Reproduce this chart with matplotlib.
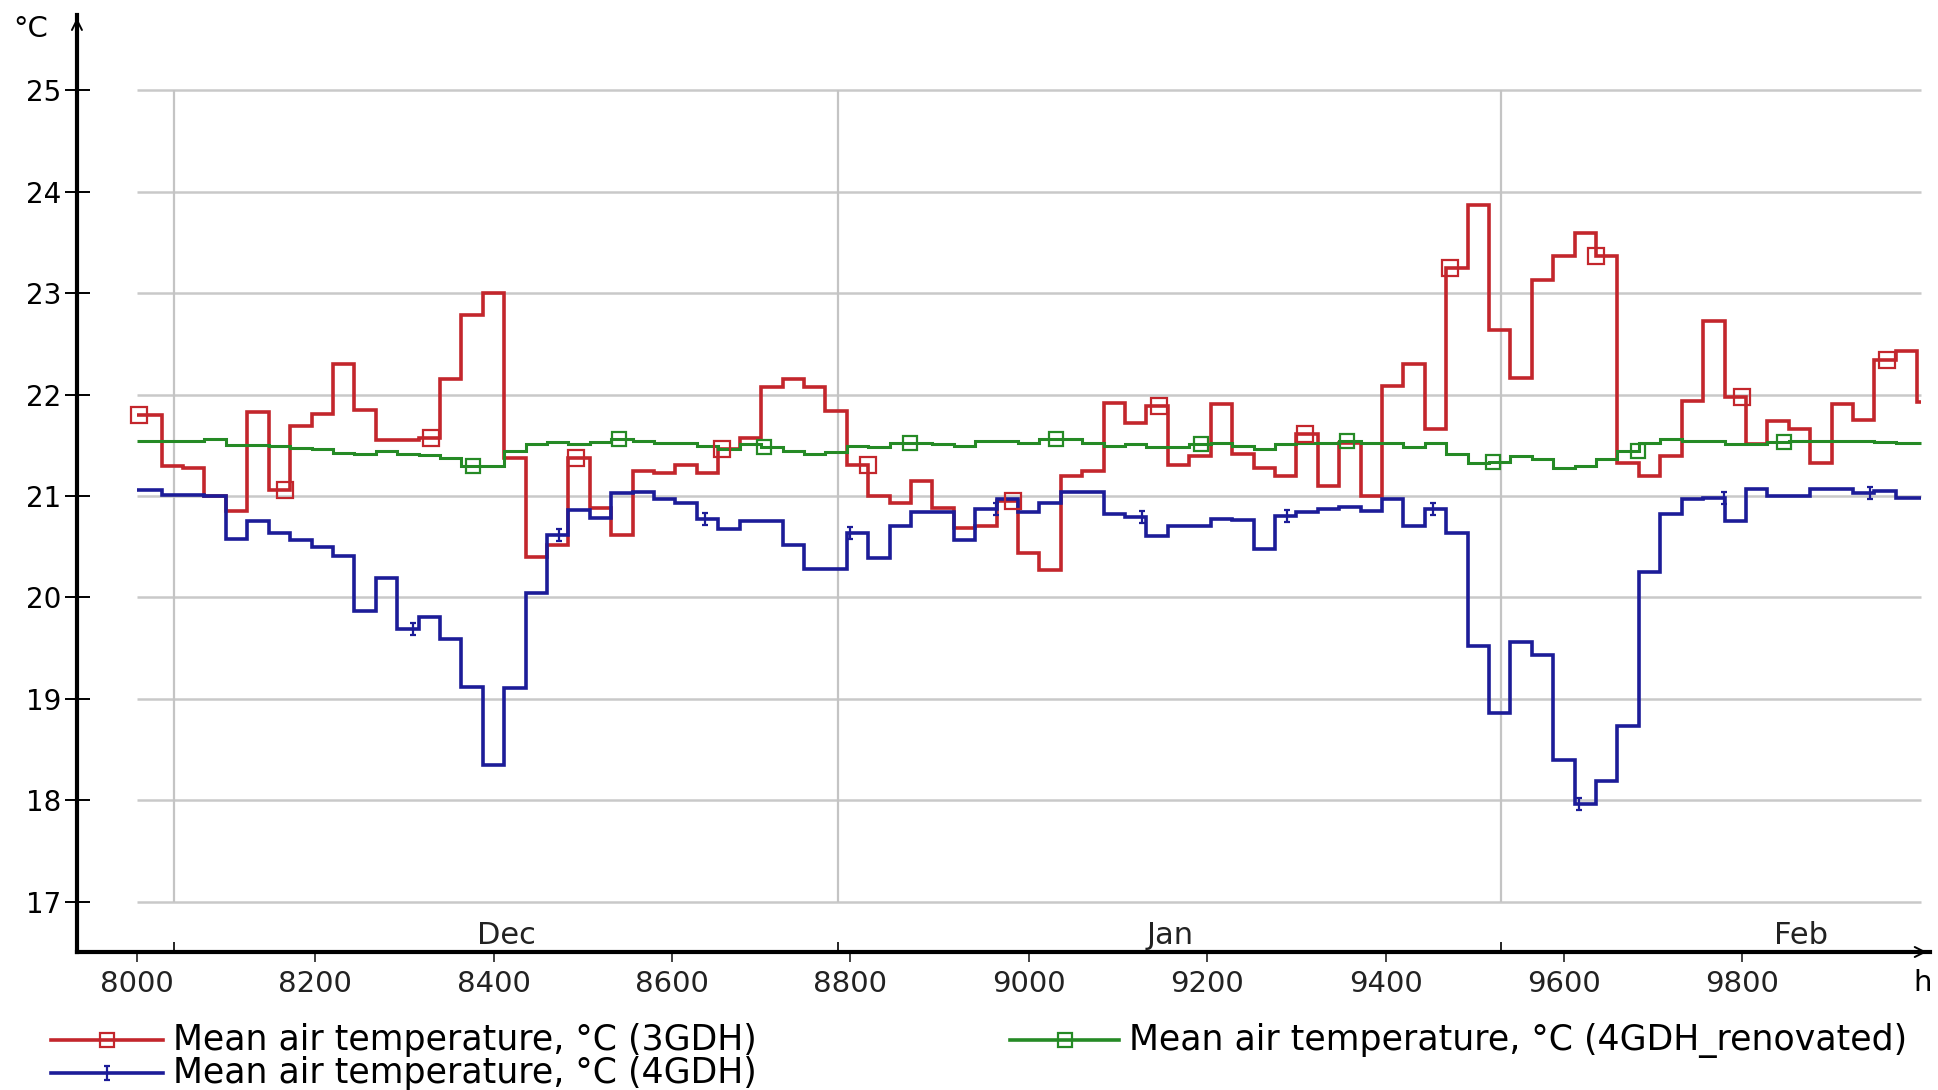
import numpy as np
import matplotlib.pyplot as plt
from matplotlib.lines import Line2D
from matplotlib.path import Path

# daily mean air temperatures, hour 8000 - 10000
day_edges = np.r_[8000, np.arange(8028, 10000, 24), 10000]

temp_3gdh = [21.80, 21.30, 21.28, 21.00, 20.85, 21.83, 21.06, 21.69, 21.81, 22.30,
             21.85, 21.55, 21.55, 21.57, 22.15, 22.78, 23.00, 21.37, 20.40, 20.52,
             21.37, 20.88, 20.62, 21.25, 21.23, 21.31, 21.23, 21.46, 21.57, 22.07,
             22.15, 22.07, 21.84, 21.31, 21.00, 20.93, 21.15, 20.88, 20.68, 20.70,
             20.95, 20.44, 20.27, 21.20, 21.25, 21.92, 21.72, 21.89, 21.31, 21.39,
             21.91, 21.41, 21.28, 21.20, 21.61, 21.10, 21.52, 21.00, 22.08, 22.30,
             21.66, 23.25, 23.87, 22.64, 22.16, 23.13, 23.36, 23.59, 23.36, 21.33,
             21.20, 21.39, 21.94, 22.72, 21.98, 21.51, 21.74, 21.66, 21.33, 21.91,
             21.75, 22.34, 22.43, 21.93]

temp_4gdh = [21.06, 21.01, 21.01, 21.00, 20.58, 20.75, 20.64, 20.57, 20.50, 20.41,
             19.87, 20.19, 19.69, 19.81, 19.59, 19.12, 18.35, 19.11, 20.04, 20.62,
             20.86, 20.78, 21.03, 21.04, 20.97, 20.93, 20.77, 20.67, 20.75, 20.75,
             20.52, 20.28, 20.28, 20.64, 20.39, 20.70, 20.84, 20.84, 20.57, 20.87,
             20.97, 20.84, 20.93, 21.04, 21.04, 20.82, 20.79, 20.61, 20.70, 20.70,
             20.77, 20.76, 20.48, 20.80, 20.84, 20.87, 20.89, 20.85, 20.97, 20.70,
             20.87, 20.64, 19.52, 18.86, 19.56, 19.43, 18.40, 17.97, 18.19, 18.73,
             20.25, 20.82, 20.97, 20.98, 20.75, 21.07, 21.00, 21.00, 21.07, 21.07,
             21.03, 21.05, 20.98, 20.98]

temp_4gdh_ren = [21.54, 21.54, 21.54, 21.56, 21.50, 21.50, 21.49, 21.47, 21.46, 21.42,
                 21.41, 21.44, 21.41, 21.40, 21.37, 21.30, 21.30, 21.44, 21.51, 21.53,
                 21.51, 21.53, 21.56, 21.54, 21.52, 21.52, 21.49, 21.46, 21.51, 21.48,
                 21.44, 21.41, 21.43, 21.49, 21.48, 21.52, 21.52, 21.51, 21.49, 21.54,
                 21.54, 21.52, 21.56, 21.56, 21.52, 21.49, 21.51, 21.48, 21.48, 21.51,
                 21.52, 21.49, 21.46, 21.51, 21.52, 21.52, 21.54, 21.52, 21.52, 21.48,
                 21.52, 21.41, 21.33, 21.34, 21.39, 21.36, 21.28, 21.30, 21.36, 21.44,
                 21.52, 21.56, 21.54, 21.54, 21.51, 21.51, 21.53, 21.54, 21.54, 21.54,
                 21.54, 21.53, 21.52, 21.52]

month_names = ['Dec', 'Jan', 'Feb']
month_start = [8042, 8786, 9530]
month_hours = [744, 744, 672]

xticks = list(range(8000, 9801, 200))
yticks = list(range(17, 26))

labels = ['Mean air temperature, °C (3GDH)',
          'Mean air temperature, °C (4GDH)',
          'Mean air temperature, °C (4GDH_renovated)']

red = '#c3262c'
blue = '#1c1c98'
green = '#258a25'

# "I" shaped marker used for the 4GDH curve
I_mark = Path([(-0.5, 1), (0.5, 1), (0, 1), (0, -1), (-0.5, -1), (0.5, -1)],
              [Path.MOVETO, Path.LINETO, Path.MOVETO, Path.LINETO, Path.MOVETO, Path.LINETO])


def value_at(hours, vals):
    idx = np.searchsorted(day_edges, hours, side='right') - 1
    idx = np.clip(idx, 0, len(vals) - 1)
    return np.asarray(vals)[idx]


fig = plt.figure(figsize=(19.38, 10.9), dpi=100)
ax = fig.add_axes([0.0397, 0.1266, 0.956, 0.8596])
ax.set_xlim(7933, 10010)
ax.set_ylim(16.507, 25.739)

# grid
ax.hlines(yticks, day_edges[0], day_edges[-1], color='#c9c9c9', lw=1.8, zorder=0)
ax.vlines(month_start, 17, 25, color='#c4c4c4', lw=1.6, zorder=0)

# curves
ax.stairs(temp_3gdh, day_edges, baseline=None, color=red, lw=2.6, zorder=3)
ax.stairs(temp_4gdh_ren, day_edges, baseline=None, color=green, lw=2.2, zorder=4)
ax.stairs(temp_4gdh, day_edges, baseline=None, color=blue, lw=2.6, zorder=3)

# curve markers
red_mk = np.arange(8003, 10000, 163.3)
green_mk = np.arange(8377, 10000, 163.3)
blue_mk = np.arange(8310, 10000, 163.3)
ax.plot(red_mk, value_at(red_mk, temp_3gdh), ls='none', marker='s', ms=11,
        mfc='none', mec=red, mew=1.6, zorder=5)
ax.plot(green_mk, value_at(green_mk, temp_4gdh_ren), ls='none', marker='s', ms=10,
        mfc='none', mec=green, mew=1.6, zorder=5)
ax.plot(blue_mk, value_at(blue_mk, temp_4gdh), ls='none', marker=I_mark, ms=9,
        mec=blue, mew=1.6, zorder=5)

# axes
for s in ['top', 'right']:
    ax.spines[s].set_visible(False)
for s in ['left', 'bottom']:
    ax.spines[s].set_linewidth(3)
    ax.spines[s].set_color('black')
ax.annotate('', xy=(0, 1.0), xytext=(0, 0.97), xycoords='axes fraction',
            arrowprops=dict(arrowstyle='->', lw=1.4, color='black', mutation_scale=18))
ax.annotate('', xy=(1.0, 0), xytext=(0.98, 0), xycoords='axes fraction',
            arrowprops=dict(arrowstyle='->', lw=1.4, color='black', mutation_scale=18))

ax.set_yticks(yticks)
ax.set_xticks(xticks)
ax.set_xticks(month_start, minor=True)
ax.tick_params(axis='y', direction='inout', length=18, width=1.4, labelsize=20, pad=2)
ax.tick_params(axis='x', which='major', direction='out', length=7, width=1.2,
               labelsize=21, pad=6, colors='#222222')
ax.tick_params(axis='x', which='minor', direction='in', length=7, width=1.2)

for name, st, n in zip(month_names, month_start, month_hours):
    ax.text(st + n / 2, 16.665, name, ha='center', va='center', fontsize=22, color='#222222')

fig.text(31 / 1938, 1 - 29 / 1090, '°C', ha='center', va='center', fontsize=21)
fig.text(1923 / 1938, 1 - 983 / 1090, 'h', ha='center', va='center', fontsize=21)

# legend drawn by hand, two columns
W, H = 1938, 1090
leg = [(51, 163, 1040, red, 's', labels[0]),
       (51, 163, 1073, blue, I_mark, labels[1]),
       (1010, 1119, 1040, green, 's', labels[2])]
for x0, x1, y, c, m, lab in leg:
    fig.add_artist(Line2D([x0 / W, x1 / W], [1 - y / H, 1 - y / H], color=c, lw=2.6))
    fig.add_artist(Line2D([(x0 + x1) / 2 / W], [1 - y / H], ls='none', marker=m,
                          ms=10, mfc='none', mec=c, mew=1.6))
    fig.text((x1 + 10) / W, 1 - y / H, lab, ha='left', va='center', fontsize=25)

fig.savefig('out.png', dpi=100)
